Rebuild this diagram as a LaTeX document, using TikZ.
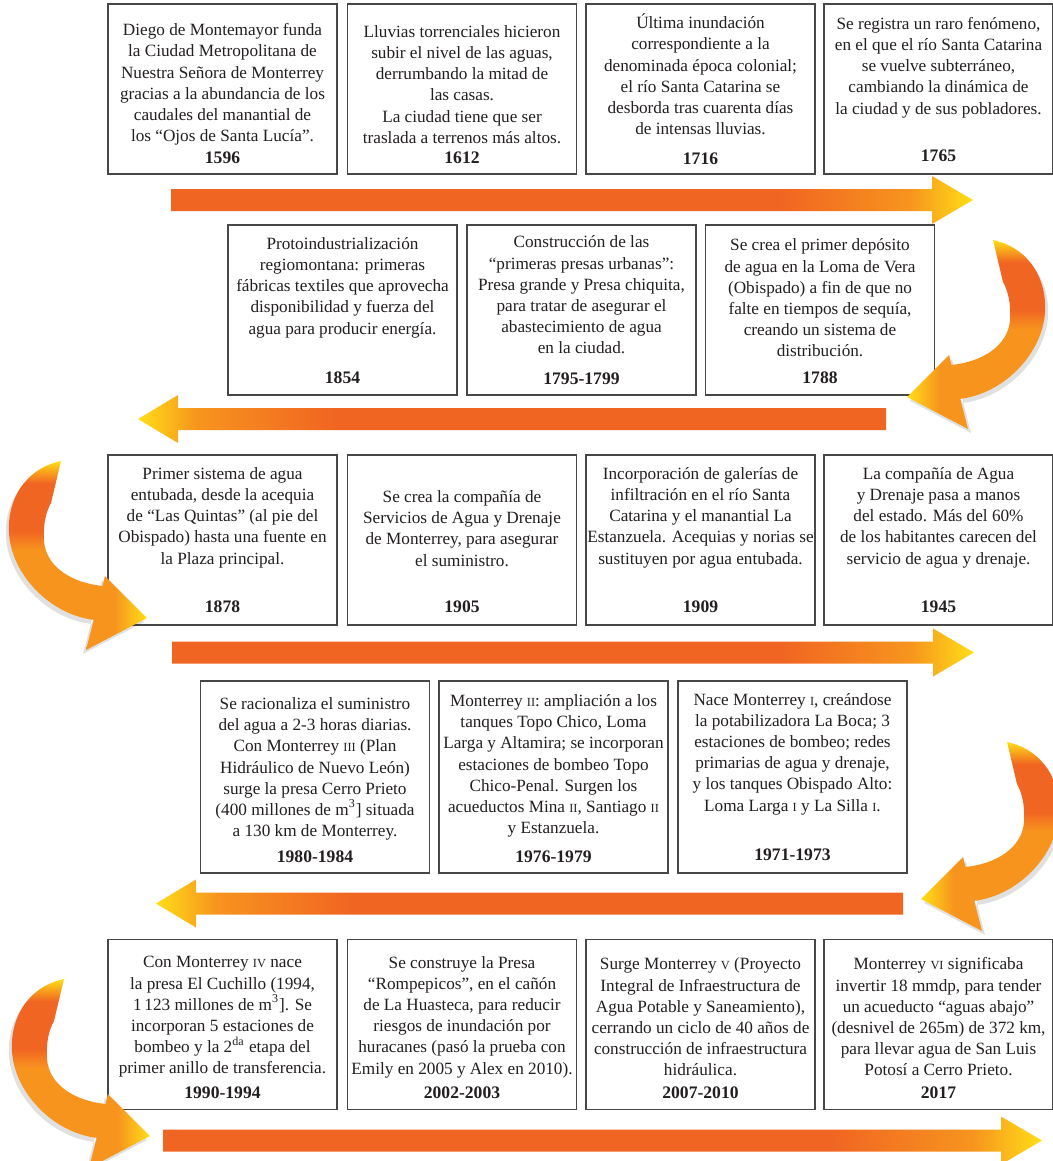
\documentclass[tikz,border=0pt]{standalone}
\usepackage{fontspec}
\setmainfont{Liberation Serif}
\usetikzlibrary{calc}
\definecolor{flowred}{RGB}{241,101,34}
\definecolor{flowamber}{RGB}{247,148,30}
\definecolor{flowyellow}{RGB}{255,222,23}
\definecolor{inkgray}{RGB}{35,31,32}
% shadings: the middle 25bp..75bp is stretched over the path
\pgfdeclarehorizontalshading{barright}{100bp}{color(0bp)=(flowred); color(25bp)=(flowred); color(63bp)=(flowred); color(71bp)=(flowamber); color(75bp)=(flowyellow); color(100bp)=(flowyellow)}
\pgfdeclarehorizontalshading{barleft}{100bp}{color(0bp)=(flowyellow); color(25bp)=(flowyellow); color(29bp)=(flowamber); color(38bp)=(flowred); color(100bp)=(flowred)}
\pgfdeclareverticalshading{curlshade}{100bp}{color(0bp)=(flowamber); color(47bp)=(flowamber); color(53bp)=(flowred); color(68bp)=(flowred); color(75bp)=(flowyellow); color(100bp)=(flowyellow)}
\pgfdeclarehorizontalshading{headleft}{100bp}{color(0bp)=(flowyellow); color(25bp)=(flowyellow); color(52bp)=(flowamber); color(100bp)=(flowamber)}
\pgfdeclarehorizontalshading{headright}{100bp}{color(0bp)=(flowamber); color(48bp)=(flowamber); color(75bp)=(flowyellow); color(100bp)=(flowyellow)}
\newcommand\rn[1]{{\fontsize{6.2}{6.2}\selectfont #1}}
% curved turn arrow, #1,#2 origin, #3 side (1 right, -1 left), #4 head shading
\newcommand\curlpt[2]{({\curlx+(\curls)*(#1)},{\curly+(#2)})}
\newcommand\curlbody{\curlpt{-7}{0} .. controls \curlpt{30}{8} and \curlpt{47}{40} .. \curlpt{45}{72}
 .. controls \curlpt{43}{112} and \curlpt{5}{154} .. \curlpt{-41}{159} -- \curlpt{-49}{125}
 .. controls \curlpt{-18}{122} and \curlpt{8}{106} .. \curlpt{10}{80}
 .. controls \curlpt{11}{63} and \curlpt{8}{51} .. \curlpt{3}{42} -- cycle}
\newcommand\curltip{\curlpt{-51}{115} -- \curlpt{-93}{157} -- \curlpt{-32}{189} -- cycle}
\newcommand\curlarrow[4]{\def\curlx{#1}\def\curly{#2}\def\curls{#3}%
 \fill[black,opacity=.12,shift={({3*(#3)},4)}] \curlbody \curltip;
 \shade[shading=curlshade] \curlbody;
 \shade[shading=#4] \curltip;}

\begin{document}
\begin{tikzpicture}[x=0.5pt,y=-0.5pt,line cap=round,
 evbox/.style={draw=black!72,line width=.8pt,fill=white,minimum width=114.5pt,minimum height=85pt,inner sep=0pt},
 evtext/.style={align=center,font=\fontsize{8.6}{10.6}\selectfont,text=inkgray,inner sep=0pt},
 evyear/.style={font=\fontsize{8.8}{10}\selectfont\bfseries,text=inkgray,inner sep=0pt}]
\useasboundingbox (0,0) rectangle (1053,1161);
\clip (0,0) rectangle (1053,1161);

% straight timeline bars
\foreach \xa/\xb/\yc in {171/932/200,172/933/652.5,163/1001/1140.5}{
 \shade[shading=barright] (\xa,{\yc-11}) -- (\xb,{\yc-11}) -- (\xb,{\yc-24})
 -- ({\xb+41},\yc) -- (\xb,{\yc+24}) -- (\xb,{\yc+11}) -- (\xa,{\yc+11}) -- cycle;}
\foreach \xa/\xb/\yc in {178/886/419,196/903/903.5}{
 \shade[shading=barleft] (\xb,{\yc-11}) -- (\xa,{\yc-11}) -- (\xa,{\yc-24})
 -- ({\xa-40},\yc) -- (\xa,{\yc+24}) -- (\xa,{\yc+11}) -- (\xb,{\yc+11}) -- cycle;}

% row 1
\node[evbox] (b1596) at (222.5,89) {};
\node[evtext] (t1596) at (222.5,84.5) {Diego de Montemayor funda\\la Ciudad Metropolitana de\\Nuestra Señora de Monterrey\\gracias a la abundancia de los\\caudales del manantial de\\los “Ojos de Santa Lucía”.};
\node[evyear] (y1596) at (222.5,158) {1596};
\node[evbox] (b1612) at (462,89) {};
\node[evtext] (t1612) at (462,84.5) {Lluvias torrenciales hicieron\\subir el nivel de las aguas,\\derrumbando la mitad de\\las casas.\\La ciudad tiene que ser\\traslada a terrenos más altos.};
\node[evyear] (y1612) at (462,158) {1612};
\node[evbox] (b1716) at (700.5,89) {};
\node[evtext] (t1716) at (700.5,74.5) {Última inundación\\correspondiente a la\\denominada época colonial;\\el río Santa Catarina se\\desborda tras cuarenta días\\de intensas lluvias.};
\node[evyear] (y1716) at (700.5,159) {1716};
\node[evbox] (b1765) at (938.5,89) {};
\node[evtext] (t1765) at (938.5,67.5) {Se registra un raro fenómeno,\\en el que el río Santa Catarina\\se vuelve subterráneo,\\cambiando la dinámica de\\la ciudad y de sus pobladores.};
\node[evyear] (y1765) at (938.5,156) {1765};

% row 2
\node[evbox] (b1854) at (342.5,310) {};
\node[evtext] (t1854) at (342.5,287.5) {Protoindustrialización\\regiomontana: primeras\\fábricas textiles que aprovecha\\disponibilidad y fuerza del\\agua para producir energía.};
\node[evyear] (y1854) at (342.5,378) {1854};
\node[evbox] (b1795) at (581.5,310) {};
\node[evtext] (t1795) at (581.5,295) {Construcción de las\\“primeras presas urbanas”:\\Presa grande y Presa chiquita,\\para tratar de asegurar el\\abastecimiento de agua\\en la ciudad.};
\node[evyear] (y1795) at (581.5,379) {1795-1799};
\node[evbox] (b1788) at (820,310) {};
\node[evtext] (t1788) at (820,298) {Se crea el primer depósito\\de agua en la Loma de Vera\\(Obispado) a fin de que no\\falte en tiempos de sequía,\\creando un sistema de\\distribución.};
\node[evyear] (y1788) at (820,378) {1788};

% row 3
\node[evbox] (b1878) at (222.5,540) {};
\node[evtext] (t1878) at (222.5,517.5) {Primer sistema de agua\\entubada, desde la acequia\\de “Las Quintas” (al pie del\\Obispado) hasta una fuente en\\la Plaza principal.};
\node[evyear] (y1878) at (222.5,607) {1878};
\node[evbox] (b1905) at (462,540) {};
\node[evtext] (t1905) at (462,528.5) {Se crea la compañía de\\Servicios de Agua y Drenaje\\de Monterrey, para asegurar\\el suministro.};
\node[evyear] (y1905) at (462,607) {1905};
\node[evbox] (b1909) at (700.5,540) {};
\node[evtext] (t1909) at (700.5,517.5) {Incorporación de galerías de\\infiltración en el río Santa\\Catarina y el manantial La\\Estanzuela. Acequias y norias se\\sustituyen por agua entubada.};
\node[evyear] (y1909) at (700.5,607) {1909};
\node[evbox] (b1945) at (938.5,540) {};
\node[evtext] (t1945) at (938.5,517.5) {La compañía de Agua\\y Drenaje pasa a manos\\del estado. Más del 60\%\\de los habitantes carecen del\\servicio de agua y drenaje.};
\node[evyear] (y1945) at (938.5,607) {1945};

% row 4
\node[evbox,minimum height=96pt] (b1980) at (315,777) {};
\node[evtext] (t1980) at (315,769) {Se racionaliza el suministro\\del agua a 2-3 horas diarias.\\Con Monterrey \rn{III} (Plan\\Hidráulico de Nuevo León)\\surge la presa Cerro Prieto\\(400 millones de m\textsuperscript{3}] situada\\a 130 km de Monterrey.};
\node[evyear] (y1980) at (315,857) {1980-1984};
\node[evbox,minimum height=96pt] (b1976) at (553.5,777) {};
\node[evtext] (t1976) at (553.5,766) {Monterrey \rn{II}: ampliación a los\\tanques Topo Chico, Loma\\Larga y Altamira; se incorporan\\estaciones de bombeo Topo\\Chico-Penal. Surgen los\\acueductos Mina \rn{II}, Santiago \rn{II}\\y Estanzuela.};
\node[evyear] (y1976) at (553.5,857) {1976-1979};
\node[evbox,minimum height=96pt] (b1971) at (792.5,777) {};
\node[evtext] (t1971) at (792.5,754) {Nace Monterrey \rn{I}, creándose\\la potabilizadora La Boca; 3\\estaciones de bombeo; redes\\primarias de agua y drenaje,\\y los tanques Obispado Alto:\\Loma Larga \rn{I} y La Silla \rn{I}.};
\node[evyear] (y1971) at (792.5,855) {1971-1973};

% row 5
\node[evbox] (b1990) at (222.5,1024.5) {};
\node[evtext] (t1990) at (222.5,1017) {Con Monterrey \rn{IV} nace\\la presa El Cuchillo (1994,\\1\,123 millones de m\textsuperscript{3}]. Se\\incorporan 5 estaciones de\\bombeo y la 2\textsuperscript{da} etapa del\\primer anillo de transferencia.};
\node[evyear] (y1990) at (222.5,1093) {1990-1994};
\node[evbox] (b2002) at (462,1024.5) {};
\node[evtext] (t2002) at (462,1017) {Se construye la Presa\\“Rompepicos”, en el cañón\\de La Huasteca, para reducir\\riesgos de inundación por\\huracanes (pasó la prueba con\\Emily en 2005 y Alex en 2010).};
\node[evyear] (y2002) at (462,1093) {2002-2003};
\node[evbox] (b2007) at (700.5,1024.5) {};
\node[evtext] (t2007) at (700.5,1017) {Surge Monterrey \rn{V} (Proyecto\\Integral de Infraestructura de\\Agua Potable y Saneamiento),\\cerrando un ciclo de 40 años de\\construcción de infraestructura\\hidráulica.};
\node[evyear] (y2007) at (700.5,1093) {2007-2010};
\node[evbox] (b2017) at (938.5,1024.5) {};
\node[evtext] (t2017) at (938.5,1017) {Monterrey \rn{VI} significaba\\invertir 18 mmdp, para tender\\un acueducto “aguas abajo”\\(desnivel de 265m) de 372 km,\\para llevar agua de San Luis\\Potosí a Cerro Prieto.};
\node[evyear] (y2017) at (938.5,1093) {2017};

% turning arrows between the rows
\curlarrow{1000}{240}{1}{headleft}
\curlarrow{54}{461}{-1}{headright}
\curlarrow{1014}{742}{1}{headleft}
\curlarrow{57}{979}{-1}{headright}
\end{tikzpicture}
\end{document}
